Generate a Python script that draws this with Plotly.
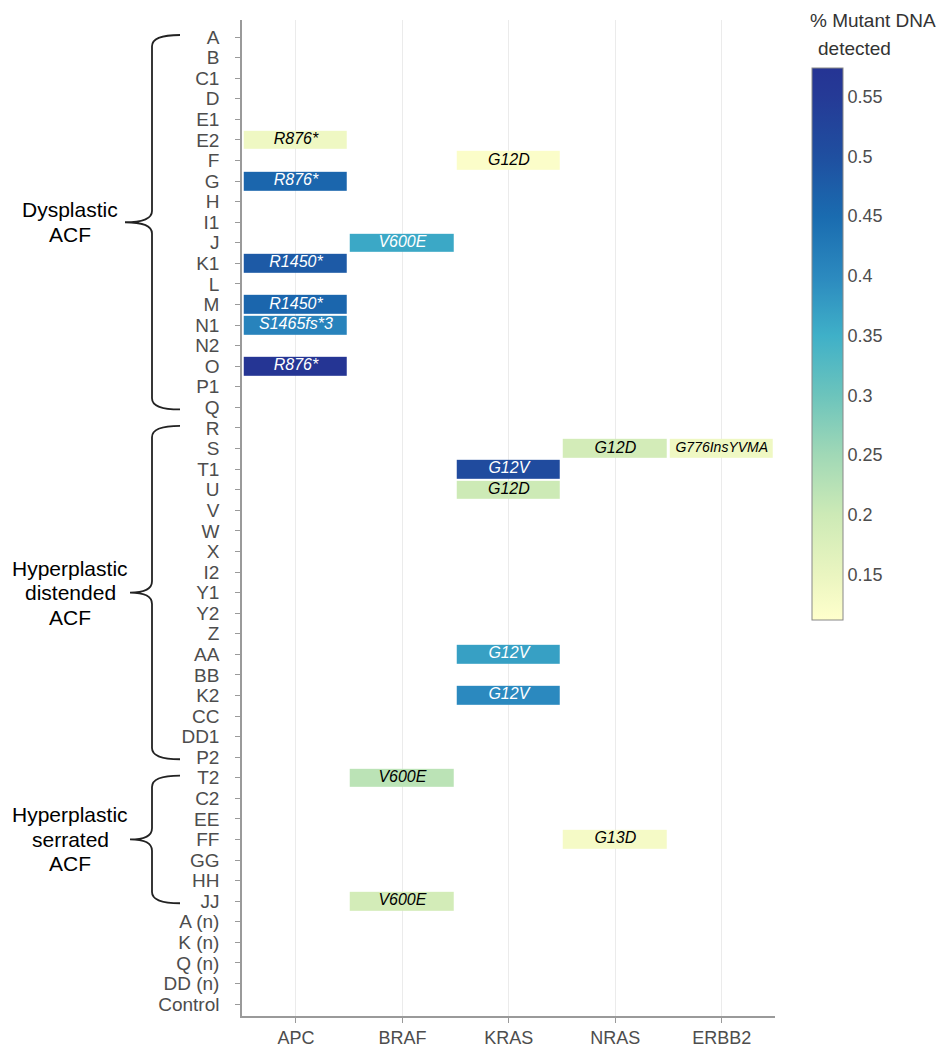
import numpy as np
import plotly.graph_objects as go

genes = ["APC", "BRAF", "KRAS", "NRAS", "ERBB2"]
samples = ["A", "B", "C1", "D", "E1", "E2", "F", "G", "H", "I1", "J", "K1", "L", "M",
           "N1", "N2", "O", "P1", "Q", "R", "S", "T1", "U", "V", "W", "X", "I2", "Y1",
           "Y2", "Z", "AA", "BB", "K2", "CC", "DD1", "P2", "T2", "C2", "EE", "FF", "GG",
           "HH", "JJ", "A (n)", "K (n)", "Q (n)", "DD (n)", "Control"]

# detected mutations: sample, gene, mutation, % mutant DNA
mut_sample = ["E2", "F", "G", "J", "K1", "M", "N1", "O", "S", "S", "T1", "U", "AA", "K2", "T2", "FF", "JJ"]
mut_gene = ["APC", "KRAS", "APC", "BRAF", "APC", "APC", "APC", "APC", "NRAS", "ERBB2", "KRAS", "KRAS", "KRAS", "KRAS", "BRAF", "NRAS", "BRAF"]
mut_label = ["R876*", "G12D", "R876*", "V600E", "R1450*", "R1450*", "S1465fs*3", "R876*", "G12D",
             "G776InsYVMA", "G12V", "G12D", "G12V", "G12V", "V600E", "G13D", "V600E"]
mut_value = [0.14, 0.12, 0.46, 0.36, 0.48, 0.46, 0.41, 0.57, 0.19, 0.14, 0.51, 0.20, 0.37, 0.40, 0.22, 0.13, 0.19]

groups = [["Dysplastic", "ACF"], ["Hyperplastic", "distended", "ACF"], ["Hyperplastic", "serrated", "ACF"]]
group_start = ["A", "R", "T2"]
group_end = ["Q", "P2", "JJ"]

cbar_ticks = [0.15, 0.2, 0.25, 0.3, 0.35, 0.4, 0.45, 0.5, 0.55]

CMIN, CMAX = 0.112, 0.574
scale = [[0, "#ffffcc"], [0.082, "#eaf5c0"], [0.19, "#cdeab6"], [0.30, "#a0d8b6"],
         [0.407, "#6cc4bc"], [0.515, "#3fb0c8"], [0.62, "#2c8abf"], [0.73, "#1a6cb0"],
         [0.84, "#1f4fa0"], [0.95, "#253a96"], [1, "#253494"]]

FONT = "Liberation Sans, Arial, sans-serif"

# build matrix
z = np.full((len(samples), len(genes)), np.nan)
xs, ys = [], []
for s, g, v in zip(mut_sample, mut_gene, mut_value):
    z[samples.index(s), genes.index(g)] = v
    xs.append(genes.index(g))
    ys.append(samples.index(s))

fig = go.Figure()
fig.add_trace(go.Heatmap(
    z=z, x=list(range(len(genes))), y=list(range(len(samples))),
    colorscale=scale, zmin=CMIN, zmax=CMAX, xgap=3, ygap=2,
    hoverongaps=False,
    colorbar=dict(
        x=1.069, xanchor="left", xref="paper", xpad=0, ypad=0,
        y=0.6747, yanchor="middle", len=0.554,
        thickness=31, outlinewidth=1, outlinecolor="#888888",
        tickvals=cbar_ticks, ticktext=[f"{t:g}" for t in cbar_ticks],
        ticks="", ticklabelposition="outside",
        tickfont=dict(family=FONT, size=18, color="#4d4d4d"),
    ),
))

txt_colors = ["white" if v > 0.3 else "black" for v in mut_value]
txt_sizes = [14 if len(l) > 9 else 16 for l in mut_label]
fig.add_trace(go.Scatter(
    x=xs, y=ys, mode="text", text=mut_label, hoverinfo="skip", showlegend=False,
    textfont=dict(family=FONT, size=txt_sizes, color=txt_colors, style="italic"),
))

# page offset (body margin) is 8px; plot area in screen pixels: x 242..775, y 20..1016
L = 242.0
W = 533.0
TOP = 20.0
H = 996.0
Y0PX = 37.0          # screen y of first row
ROWPX = 20.57        # screen px per row
def px(p):
    return (p - L) / W
def py(p):
    return (TOP + H - p) / H

shapes = []
annotations = []
tips = [125, 130, 130]
LINE = 24.5
for lines, gs, ge, tip in zip(groups, group_start, group_end, tips):
    y0 = samples.index(gs) - 0.1
    y1 = samples.index(ge) + 0.1
    ym = (y0 + y1) / 2
    r = 0.55
    xe, xv, xt = px(180), px(152), px(tip)
    path = (f"M {xe},{y0} Q {xv},{y0} {xv},{y0 + r} L {xv},{ym - r} "
            f"Q {xv},{ym} {xt},{ym} Q {xv},{ym} {xv},{ym + r} "
            f"L {xv},{y1 - r} Q {xv},{y1} {xe},{y1}")
    shapes.append(dict(type="path", path=path, xref="paper", yref="y",
                       line=dict(color="#222222", width=1.8)))
    n = len(lines)
    for i, t in enumerate(lines):
        off = (i - (n - 1) / 2) * LINE / ROWPX
        annotations.append(dict(text=t, xref="paper", yref="y", x=px(70), y=ym + off,
                                xanchor="center", yanchor="middle", showarrow=False,
                                font=dict(family=FONT, size=21, color="black")))

annotations.append(dict(text="% Mutant DNA", xref="paper", yref="paper",
                        x=px(808), y=py(20), xanchor="left", yanchor="middle",
                        showarrow=False, font=dict(family=FONT, size=19, color="#333333")))
annotations.append(dict(text="detected", xref="paper", yref="paper",
                        x=px(816), y=py(48), xanchor="left", yanchor="middle",
                        showarrow=False, font=dict(family=FONT, size=19, color="#333333")))

fig.update_layout(
    width=940, height=1040,
    margin=dict(l=234, r=173, t=12, b=32, autoexpand=False),
    plot_bgcolor="white", paper_bgcolor="white",
    shapes=shapes, annotations=annotations,
    font=dict(family=FONT),
)
fig.update_xaxes(
    range=[-0.507, 4.5], tickvals=list(range(len(genes))), ticktext=genes,
    showgrid=True, gridcolor="#ebebeb", gridwidth=1, zeroline=False,
    showline=True, linecolor="#9a9a9a", linewidth=1.5,
    ticks="outside", ticklen=5, tickcolor="#9a9a9a", ticklabelstandoff=0,
    tickfont=dict(size=18, color="#4d4d4d"), automargin=False,
)
fig.update_yaxes(
    range=[47.58, -0.83], tickvals=list(range(len(samples))), ticktext=samples,
    showgrid=False, zeroline=False,
    showline=True, linecolor="#9a9a9a", linewidth=1.5,
    ticks="outside", ticklen=5, tickcolor="#9a9a9a", ticklabelstandoff=12,
    tickfont=dict(size=19, color="#4d4d4d"), automargin=False,
)

fig.write_html("out.html")
